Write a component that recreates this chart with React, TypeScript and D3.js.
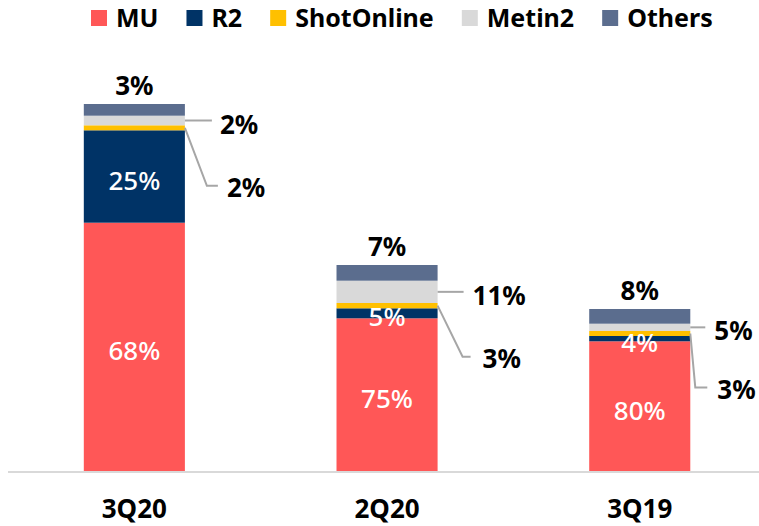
import React from "react";
import * as d3 from "d3";

// ---- Data ----
const categories = ["3Q20", "2Q20", "3Q19"];
const seriesNames = ["MU", "R2", "ShotOnline", "Metin2", "Others"];
const seriesColors = ["#FF5757", "#003366", "#FFC000", "#D9D9D9", "#5B6D8E"];
// segment sizes (relative revenue) per category, in series order
const muValues = [249.3, 153.7, 130.7];
const r2Values = [92.4, 10.0, 5.3];
const shotValues = [5.0, 5.3, 5.0];
const metinValues = [9.6, 22.3, 7.3];
const othersValues = [11.7, 15.7, 14.7];
// share labels
const muLabels = ["68%", "75%", "80%"];
const r2Labels = ["25%", "5%", "4%"];
const shotLabels = ["2%", "3%", "3%"];
const metinLabels = ["2%", "11%", "5%"];
const othersLabels = ["3%", "7%", "8%"];

const W = 759;
const H = 526;
const FONT = "'Noto Sans', 'DejaVu Sans', sans-serif";

// leader-line layout per category (not data)
const leaderLayout = [
  { mLen: 27, mText: 35, sDx: 22, sDy: 58, sLen: 33, sText: 42 },
  { mLen: 26, mText: 35, sDx: 25, sDy: 51, sLen: 33, sText: 45 },
  { mLen: 15, mText: 24, sDx: 5, sDy: 54, sLen: 17, sText: 27 },
];

function measure(text: string, size: number, weight: string) {
  const c = document.createElement("canvas").getContext("2d");
  if (!c) return text.length * size * 0.6;
  c.font = `${weight} ${size}px 'Noto Sans'`;
  return c.measureText(text).width;
}

export default function App() {
  const valuesBySeries = [muValues, r2Values, shotValues, metinValues, othersValues];
  const rows = categories.map((cat, i) => {
    const r: any = { cat };
    seriesNames.forEach((s, j) => (r[s] = valuesBySeries[j][i]));
    return r;
  });
  const stacked = d3.stack().keys(seriesNames)(rows);
  const maxTotal = d3.max(rows, (r: any) => d3.sum(seriesNames, (s) => r[s])) as number;

  const axisY = 472;
  const topY = 104;
  const y = d3.scaleLinear().domain([0, maxTotal]).range([axisY, topY]);
  const x = d3
    .scaleBand()
    .domain(categories)
    .range([8, 8 + 3 * 252.7])
    .paddingInner(0.6)
    .paddingOuter(0.3);
  const bw = x.bandwidth();

  // legend layout
  const legendFont = 25;
  let lx = 91;
  const legendItems = seriesNames.map((name, i) => {
    const item = { name, color: seriesColors[i], x: lx };
    lx += 16 + 9 + measure(name, legendFont, "bold") + 28;
    return item;
  });

  const labelSets = [muLabels, r2Labels, shotLabels, metinLabels, othersLabels];

  return (
    <svg
      width={W}
      height={H}
      style={{ position: "absolute", left: 0, top: 0, background: "#fff" }}
      fontFamily={FONT}
    >
      {/* legend */}
      {legendItems.map((it) => (
        <g key={it.name}>
          <rect x={it.x} y={10} width={16} height={16} fill={it.color} />
          <text x={it.x + 25} y={27} fontSize={legendFont} fontWeight="bold" fill="#000">
            {it.name}
          </text>
        </g>
      ))}

      {/* bars */}
      {stacked.map((layer, j) => (
        <g key={layer.key} fill={seriesColors[j]}>
          {layer.map((d: any, i: number) => (
            <rect
              key={i}
              x={x(categories[i])}
              y={y(d[1])}
              width={bw}
              height={y(d[0]) - y(d[1])}
            />
          ))}
        </g>
      ))}

      {/* axis line */}
      <line x1={8} x2={W} y1={axisY} y2={axisY} stroke="#D9D9D9" strokeWidth={2} />

      {/* category labels */}
      {categories.map((c) => (
        <text
          key={c}
          x={(x(c) as number) + bw / 2}
          y={518}
          textAnchor="middle"
          fontSize={26}
          fontWeight="bold"
          fill="#000"
        >
          {c}
        </text>
      ))}

      {/* inside labels: MU and R2 */}
      {[0, 1].map((j) =>
        stacked[j].map((d: any, i: number) => (
          <text
            key={`in${j}-${i}`}
            x={(x(categories[i]) as number) + bw / 2}
            y={(y(d[0]) + y(d[1])) / 2 + 3}
            textAnchor="middle"
            dominantBaseline="central"
            fontSize={26}
            fontWeight={500}
            fill="#fff"
          >
            {labelSets[j][i]}
          </text>
        ))
      )}

      {/* top labels: Others */}
      {stacked[4].map((d: any, i: number) => (
        <text
          key={`top${i}`}
          x={(x(categories[i]) as number) + bw / 2}
          y={y(d[1]) - 19}
          textAnchor="middle"
          dominantBaseline="central"
          fontSize={26}
          fontWeight="bold"
          fill="#000"
        >
          {othersLabels[i]}
        </text>
      ))}

      {/* leader labels: Metin2 and ShotOnline */}
      {categories.map((c, i) => {
        const right = (x(c) as number) + bw;
        const L = leaderLayout[i];
        const mSeg = stacked[3][i];
        const sSeg = stacked[2][i];
        const my = (y(mSeg[0]) + y(mSeg[1])) / 2;
        const sy = (y(sSeg[0]) + y(sSeg[1])) / 2;
        const path = d3.line()([
          [right, sy],
          [right + L.sDx, sy + L.sDy],
          [right + L.sLen, sy + L.sDy],
        ]) as string;
        return (
          <g key={`lead${i}`}>
            <line x1={right} x2={right + L.mLen} y1={my} y2={my} stroke="#A6A6A6" strokeWidth={2} />
            <text
              x={right + L.mText}
              y={my + 3}
              dominantBaseline="central"
              fontSize={26}
              fontWeight="bold"
              fill="#000"
            >
              {metinLabels[i]}
            </text>
            <path d={path} fill="none" stroke="#A6A6A6" strokeWidth={2} />
            <text
              x={right + L.sText}
              y={sy + L.sDy + 1}
              dominantBaseline="central"
              fontSize={26}
              fontWeight="bold"
              fill="#000"
            >
              {shotLabels[i]}
            </text>
          </g>
        );
      })}
    </svg>
  );
}
